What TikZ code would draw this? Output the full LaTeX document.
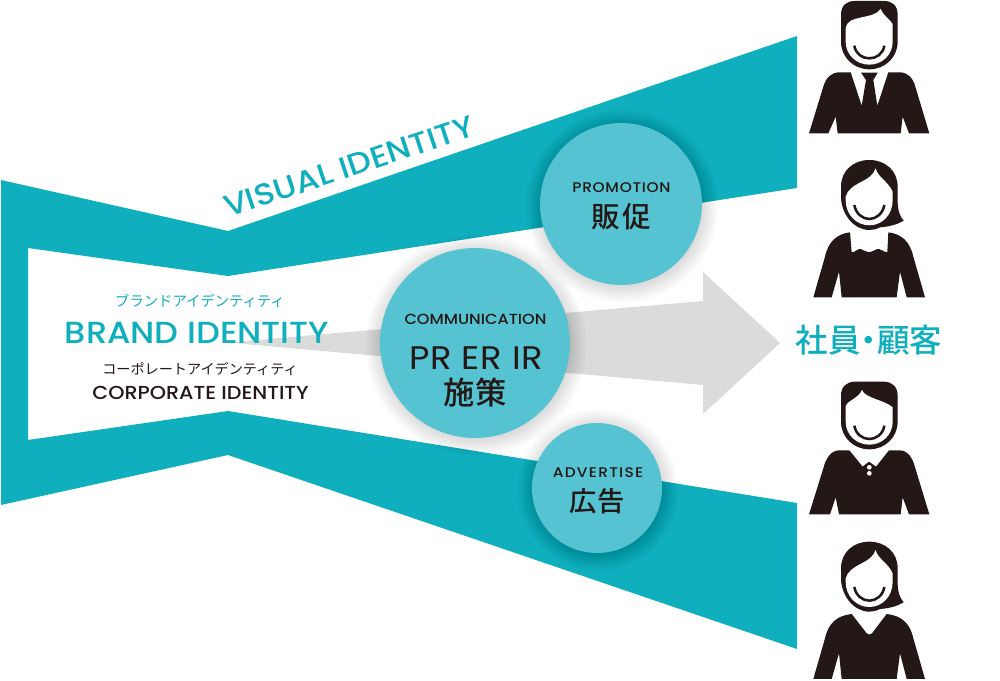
\documentclass[tikz,border=0pt]{standalone}
\usepackage{fontspec}
\setmainfont{Poppins}
\newfontfamily\latn[FakeStretch=1.1]{Poppins Medium}
\newfontfamily\latnr[FakeStretch=1.08]{Poppins}
\newfontfamily\cjk{Noto Sans CJK JP}
\newfontfamily\cjkm{Noto Sans CJK JP Medium}
\definecolor{band}{HTML}{10AFBD}
\definecolor{disc}{HTML}{55C3D2}
\definecolor{arrowgray}{HTML}{DADCDC}
\definecolor{ink}{HTML}{231815}
\tikzset{
  lbl/.style={inner sep=0pt,outer sep=0pt,align=center},
  tealtxt/.style={lbl,text=band},
  inktxt/.style={lbl,text=ink},
  disk/.style={circle,fill=disc,draw=none,inner sep=0pt,minimum size=#1},
  personfill/.style={fill=ink,draw=none},
  facefill/.style={fill=white,draw=none},
  smile/.style={draw=ink,line width=1.9pt},
  person/.style={shift={(#1)},scale=1/3}
}
\newcommand{\discshadow}[3]{%
  \foreach \d in {16,15,...,0}{\fill[black,opacity=0.008] (#1+1,#2+2) circle ({#3+\d});}%
}
\begin{document}
\begin{tikzpicture}[x=0.75pt,y=-0.75pt]
\useasboundingbox (0,0) rectangle (1000,681);
\fill[white] (0,0) rectangle (1000,681);

% funnel band
\fill[band,even odd rule] (1,180) -- (228,231) -- (797,36) -- (797,188) -- (228,276) -- (28,248) -- (28,440) -- (228,411) -- (797,503) -- (797,649) -- (228,455) -- (1,505) -- cycle;

% arrow
\fill[arrowgray] (228,342.5) -- (703,301) -- (703,272) -- (780,343) -- (703,414) -- (703,385) -- cycle;

% shadows and discs
\discshadow{621}{204}{81}
\discshadow{597}{488}{65}
\discshadow{475}{343}{95}
\node[disk=162*0.75pt] (promo) at (621,204) {};
\node[disk=130*0.75pt] (adv) at (597,488) {};
\node[disk=190*0.75pt] (comm) at (475,343) {};

% texts
\node[tealtxt,rotate=18.4] (vi) at (349,166.5) {\latn\fontsize{22.7pt}{26pt}\selectfont VISUAL IDENTITY};
\node[tealtxt] (bjp) at (200,300.5) {\cjk\fontsize{10.75pt}{12pt}\selectfont ブランドアイデンティティ};
\node[tealtxt] (bi) at (197,332.5) {\latn\fontsize{22.9pt}{27pt}\selectfont BRAND IDENTITY};
\node[inktxt] (cjp) at (200,369.5) {\cjk\fontsize{10.6pt}{12pt}\selectfont コーポレートアイデンティティ};
\node[inktxt] (ci) at (200.5,392.5) {\latn\fontsize{14.1pt}{16pt}\selectfont CORPORATE IDENTITY};
\node[inktxt] (c1) at (475.5,319.5) {\latn\fontsize{11pt}{13pt}\selectfont COMMUNICATION};
\node[inktxt] (c2) at (476,358) {\latnr\addfontfeature{LetterSpace=2}\fontsize{24.5pt}{28pt}\selectfont PR ER IR};
\node[inktxt] (c3) at (475,393) {\cjkm\addfontfeature{LetterSpace=3}\fontsize{23.5pt}{26pt}\selectfont 施策};
\node[inktxt] (p1) at (621.5,187.5) {\latn\addfontfeature{LetterSpace=5}\fontsize{10.5pt}{12pt}\selectfont PROMOTION};
\node[inktxt] (p2) at (621.5,217) {\cjkm\addfontfeature{LetterSpace=6}\fontsize{21.5pt}{24pt}\selectfont 販促};
\node[inktxt] (a1) at (598,472.5) {\latn\addfontfeature{LetterSpace=9}\fontsize{10.5pt}{12pt}\selectfont ADVERTISE};
\node[inktxt] (a2) at (597.5,501) {\cjkm\addfontfeature{LetterSpace=3}\fontsize{20.5pt}{24pt}\selectfont 広告};
\node[tealtxt] (staff) at (869,340) {\cjkm\addfontfeature{RawFeature=+palt}\fontsize{24.4pt}{27pt}\selectfont 社員・顧客};

% man with tie
\begin{scope}[person={790,0}]
  \fill[personfill] (153,125) -- (153,45) .. controls (153,15) and (170,3) .. (195,3) -- (281,3) .. controls (306,3) and (323,15) .. (323,45) -- (323,125) .. controls (323,172) and (285,208) .. (238,208) .. controls (191,208) and (153,172) .. (153,125) -- cycle;
  \fill[facefill] (167,125) -- (167,85) .. controls (172,60) and (190,58) .. (215,52) .. controls (240,47) and (262,42) .. (272,27) .. controls (278,45) and (297,55) .. (308,72) -- (308,125) .. controls (308,165) and (276,194) .. (238,194) .. controls (200,194) and (167,165) .. (167,125) -- cycle;
  \draw[smile] (193,137) .. controls (197,162) and (217,175) .. (238,175) .. controls (259,175) and (279,162) .. (283,137);
  \fill[personfill] (57,400) -- (100,260) .. controls (108,232) and (125,217) .. (148,217) -- (182,217) -- (215,317) -- (228,240) -- (213,218) -- (263,218) -- (250,240) -- (262,317) -- (295,217) -- (329,217) .. controls (352,217) and (368,232) .. (376,260) -- (418,400) -- (357,400) -- (338,350) -- (332,400) -- (143,400) -- (137,350) -- (115,400) -- cycle;
\end{scope}

% woman with scalloped neckline
\begin{scope}[person={790,0}]
  \fill[personfill] (153,590) -- (153,560) .. controls (153,512) and (190,480) .. (238,480) .. controls (286,480) and (323,512) .. (323,560) -- (323,605) .. controls (323,630) and (330,650) .. (341,662) .. controls (325,672) and (300,680) .. (270,682) .. controls (258,688) and (248,690) .. (238,690) .. controls (190,690) and (153,640) .. (153,590) -- cycle;
  \fill[facefill] (167,600) -- (167,590) .. controls (172,570) and (190,558) .. (215,545) .. controls (235,535) and (250,525) .. (257,505) .. controls (262,530) and (295,545) .. (308,575) -- (308,600) .. controls (308,645) and (276,676) .. (238,676) .. controls (200,676) and (167,645) .. (167,600) -- cycle;
  \draw[smile] (193,615) .. controls (197,640) and (217,657) .. (238,657) .. controls (259,657) and (279,640) .. (283,615);
  \fill[personfill] (70,892) -- (105,770) .. controls (115,725) and (140,702) .. (180,697) -- (185,757) .. controls (195,757) and (205,745) .. (212,747) .. controls (222,750) and (230,757) .. (237,757) .. controls (245,757) and (252,750) .. (262,747) .. controls (270,745) and (282,757) .. (292,757) -- (295,697) .. controls (335,702) and (360,725) .. (370,770) -- (405,892) -- (350,892) -- (330,815) -- (320,892) -- (155,892) -- (147,815) -- (125,892) -- cycle;
\end{scope}

% man with polo
\begin{scope}[person={790,370}]
  \fill[personfill] (153,155) -- (153,77) .. controls (153,50) and (170,35) .. (195,35) -- (281,35) .. controls (306,35) and (323,50) .. (323,77) -- (323,155) .. controls (323,202) and (285,238) .. (238,238) .. controls (191,238) and (153,202) .. (153,155) -- cycle;
  \fill[facefill] (167,155) -- (167,108) .. controls (175,90) and (205,85) .. (216,60) .. controls (225,85) and (285,90) .. (308,112) -- (308,155) .. controls (308,195) and (276,224) .. (238,224) .. controls (200,224) and (167,195) .. (167,155) -- cycle;
  \draw[smile] (193,167) .. controls (197,192) and (217,207) .. (238,207) .. controls (259,207) and (279,192) .. (283,167);
  \fill[personfill] (57,433) -- (100,295) .. controls (108,262) and (125,241) .. (148,241) -- (178,241) -- (218,290) -- (237,275) -- (258,290) -- (297,241) -- (329,241) .. controls (352,241) and (368,262) .. (376,295) -- (418,433) -- (357,433) -- (338,382) -- (332,433) -- (147,433) -- (137,382) -- (120,433) -- cycle;
  \fill[white] (238,292) circle (7);
  \fill[white] (238,310) circle (7);
\end{scope}

% woman with V neck
\begin{scope}[person={790,370}]
  \fill[personfill] (153,625) -- (153,595) .. controls (153,547) and (190,515) .. (238,515) .. controls (286,515) and (323,547) .. (323,595) -- (323,640) .. controls (323,665) and (330,685) .. (341,697) .. controls (325,707) and (300,715) .. (270,717) .. controls (258,723) and (248,725) .. (238,725) .. controls (190,725) and (153,675) .. (153,625) -- cycle;
  \fill[facefill] (167,635) -- (167,625) .. controls (172,605) and (190,593) .. (215,580) .. controls (235,570) and (250,560) .. (257,540) .. controls (262,565) and (295,580) .. (308,610) -- (308,635) .. controls (308,680) and (276,711) .. (238,711) .. controls (200,711) and (167,680) .. (167,635) -- cycle;
  \draw[smile] (193,651) .. controls (197,676) and (217,692) .. (238,692) .. controls (259,692) and (279,676) .. (283,651);
  \fill[personfill] (70,927) -- (105,805) .. controls (115,760) and (140,737) .. (185,732) -- (230,790) .. controls (235,795) and (241,795) .. (246,790) -- (290,732) .. controls (335,737) and (360,760) .. (370,805) -- (405,927) -- (350,927) -- (330,850) -- (320,927) -- (155,927) -- (147,850) -- (125,927) -- cycle;
\end{scope}
\end{tikzpicture}
\end{document}
